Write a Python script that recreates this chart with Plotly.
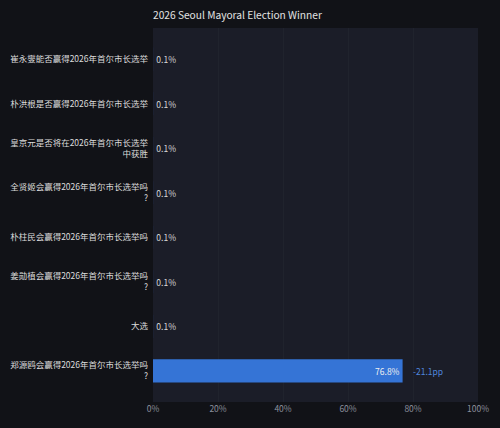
import plotly.graph_objects as go

categories = [
    "崔永燮能否赢得2026年首尔市长选举",
    "朴洪根是否赢得2026年首尔市长选举",
    "皇京元是否将在2026年首尔市长选举<br>中获胜",
    "全贤姬会赢得2026年首尔市长选举吗<br>?",
    "朴柱民会赢得2026年首尔市长选举吗",
    "姜勋植会赢得2026年首尔市长选举吗<br>?",
    "大选",
    "郑源鸥会赢得2026年首尔市长选举吗<br>?",
]
values = [0.1, 0.1, 0.1, 0.1, 0.1, 0.1, 0.1, 76.8]
change_label = "-21.1pp"
x_ticks = [0, 20, 40, 60, 80, 100]
x_tick_labels = ["0%", "20%", "40%", "60%", "80%", "100%"]

font_family = "Noto Sans CJK SC, Noto Sans, sans-serif"

text_pos = ["inside" if v > 10 else "outside" for v in values]
text_colors = ["#f0f0f0" if v > 10 else "#d8d8d8" for v in values]
bar_colors = ["#3574d6" if v > 1 else "rgba(53,116,214,0.15)" for v in values]

fig = go.Figure()
fig.add_trace(go.Bar(
    y=categories,
    x=values,
    orientation="h",
    marker=dict(color=bar_colors, line=dict(width=0)),
    width=0.52,
    text=[f"{v:.1f}%" for v in values],
    textposition=text_pos,
    insidetextanchor="end",
    textfont=dict(color=text_colors, size=8.5, family=font_family),
    cliponaxis=False,
    hoverinfo="skip",
))

fig.add_annotation(
    x=values[-1], y=categories[-1],
    text=change_label,
    showarrow=False,
    xanchor="left",
    xshift=8,
    font=dict(color="#4f86dd", size=8.5, family=font_family),
)

n = len(categories)
fig.update_layout(
    width=500, height=428,
    margin=dict(l=153, r=22, t=28, b=26, autoexpand=False),
    paper_bgcolor="#111217",
    plot_bgcolor="#1b1d28",
    showlegend=False,
    title=dict(
        text="2026 Seoul Mayoral Election Winner",
        x=153/500, xanchor="left",
        y=1 - 15/428, yanchor="middle",
        font=dict(color="#e2e2e2", size=10.2, family=font_family),
    ),
    xaxis=dict(
        range=[0, 100],
        tickvals=x_ticks,
        ticktext=x_tick_labels,
        showgrid=True,
        gridcolor="#20232d",
        zeroline=False,
        showline=False,
        automargin=False,
        tickfont=dict(color="#8c909c", size=8.5, family=font_family),
        fixedrange=True,
    ),
    yaxis=dict(
        range=[n - 1 + 0.7, -0.7],
        showgrid=False,
        zeroline=False,
        showline=False,
        automargin=False,
        tickfont=dict(color="#dcdcdc", size=8.5, family=font_family),
        ticklabelstandoff=4,
        fixedrange=True,
    ),
)

fig.write_html("out.html")
